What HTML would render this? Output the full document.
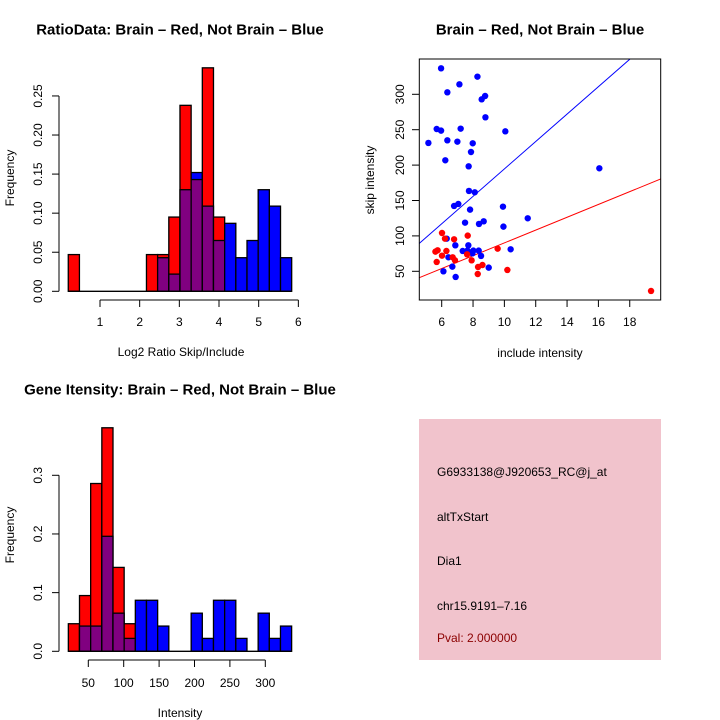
<!DOCTYPE html>
<html><head><meta charset="utf-8"><style>
html,body{margin:0;padding:0;background:#fff}
svg{display:block;font-family:"Liberation Sans",sans-serif}
</style></head><body>
<svg id="c" width="720" height="720" viewBox="0 0 720 720">
<rect x="0" y="0" width="720" height="720" fill="#fff"/>
</svg>
<script>
// ---- top-left histogram data (log2 ratio) ----
const ratioBinStart = 0.2;
const ratioBinWidth = 0.2816;
const ratioRed = [0.047,0,0,0,0,0,0,0.047,0.047,0.095,0.238,0.143,0.286,0.095,0,0,0,0,0,0];
const ratioBlue = [0,0,0,0,0,0,0,0,0.043,0.022,0.13,0.152,0.109,0.065,0.087,0.043,0.065,0.13,0.109,0.043];
const ratioXTicks = [1,2,3,4,5,6];
const ratioYTicks = [0,0.05,0.10,0.15,0.20,0.25];
const ratioYLabels = ["0.00","0.05","0.10","0.15","0.20","0.25"];
// ---- bottom-left histogram data (intensity) ----
const intBinStart = 21.8;
const intBinWidth = 15.77;
const intRed = [0.047,0.095,0.286,0.381,0.143,0.047,0,0,0,0,0,0,0,0,0,0,0,0,0,0];
const intBlue = [0,0.043,0.043,0.196,0.065,0.022,0.087,0.087,0.043,0,0,0.065,0.022,0.087,0.087,0.022,0,0.065,0.022,0.043];
const intXTicks = [50,100,150,200,250,300];
const intYTicks = [0,0.1,0.2,0.3];
const intYLabels = ["0.0","0.1","0.2","0.3"];
// ---- scatter data ----
const blueX = [5.96,8.28,7.13,6.36,8.55,8.77,8.79,5.68,5.96,7.21,10.06,5.15,6.36,7.00,7.98,7.87,6.23,7.72,16.06,7.74,8.11,6.79,7.06,9.91,7.81,11.49,7.49,8.38,8.68,9.94,6.32,6.87,7.70,7.34,7.64,8.02,8.36,7.96,10.40,6.43,8.51,6.68,9.0,6.11,6.89];
const blueY = [336.7,324.9,314.1,302.8,292.9,297.6,267.5,251.0,248.7,251.5,247.7,231.3,235.0,233.1,230.8,218.5,206.8,198.3,195.5,163.5,161.6,142.3,145.1,141.3,137.1,124.9,118.7,116.9,120.6,113.1,96.1,86.7,86.7,78.7,79.2,79.2,79.2,75.4,81.1,69.8,71.7,56.6,55.2,50,42];
const redX = [6.02,6.21,6.79,7.66,5.60,5.74,6.30,6.02,5.68,6.70,6.85,7.62,7.91,9.57,8.60,8.32,8.30,10.19,19.36];
const redY = [104.1,96.1,95.2,100.4,77.8,79.7,78.7,72.1,63.2,69.8,65.5,74.0,65.5,82.0,58.9,56.1,46.2,51.9,22.2];
const redLine = [-0.4, 9.05];   // intercept, slope
const blueLine = [1.0, 19.36];
const scXTicks = [6,8,10,12,14,16,18];
const scYTicks = [50,100,150,200,250,300];

const svg = document.getElementById('c');
const NS = 'http://www.w3.org/2000/svg';
function mk(tag, attrs, parent){
  const e = document.createElementNS(NS, tag);
  for (const k in attrs) e.setAttribute(k, attrs[k]);
  (parent||svg).appendChild(e);
  return e;
}
function txt(x,y,s,size,opts){
  opts = opts||{};
  const t = mk('text',{x:x,y:y,'font-size':size,'text-anchor':'middle','dominant-baseline':'central',fill:opts.fill||'#000','font-weight':opts.bold?'bold':'normal'});
  if (opts.rot) t.setAttribute('transform','rotate(-90 '+x+' '+y+')');
  if (opts.anchor) t.setAttribute('text-anchor', opts.anchor);
  t.textContent = s;
  return t;
}

// ===== Top-left histogram =====
const rx = v => 100 + (v-1)*39.67;
const ry = v => 291.3 - v*781.4;
function hist(xs, ys, start, width, red, blue, g){
  for (let i=0;i<red.length;i++){
    const x0 = xs(start+i*width), x1 = xs(start+(i+1)*width);
    const draw = (v,col,name) => {
      if (v<=0) return;
      const r = mk('rect',{x:x0,y:ys(v),width:x1-x0,height:ys(0)-ys(v),fill:col,stroke:'#000','stroke-width':1.3},g);
      
      
    };
    if (red[i]>=blue[i]){ draw(red[i],'#ff0000','red-bar'); draw(Math.min(red[i],blue[i]),'#800080','overlap-bar'); }
    else { draw(blue[i],'#0000ff','blue-bar'); draw(Math.min(red[i],blue[i]),'#800080','overlap-bar'); }
  }
}
const g1 = mk('g',{});


hist(rx, ry, ratioBinStart, ratioBinWidth, ratioRed, ratioBlue, g1);
mk('line',{x1:rx(0.2),x2:rx(5.83),y1:ry(0),y2:ry(0),stroke:'#000','stroke-width':1.3},g1);
mk('line',{x1:59,x2:59,y1:ry(0),y2:ry(0.25),stroke:'#000','stroke-width':1},g1);
ratioYTicks.forEach((v,i)=>{ mk('line',{x1:52,x2:59,y1:ry(v),y2:ry(v),stroke:'#000'},g1); txt(38,ry(v),ratioYLabels[i],12,{rot:true}); });
mk('line',{x1:rx(1),x2:rx(6),y1:300,y2:300,stroke:'#000'},g1);
ratioXTicks.forEach(v=>{ mk('line',{x1:rx(v),x2:rx(v),y1:300,y2:307,stroke:'#000'},g1); txt(rx(v),322,String(v),12); });
txt(180,30,'RatioData: Brain \u2013 Red, Not Brain \u2013 Blue',15,{bold:true});
txt(181,352,'Log2 Ratio Skip/Include',12);
txt(10,178,'Frequency',12,{rot:true});

// ===== Bottom-left histogram =====
const ix = v => 88.3 + (v-50)*0.708;
const iy = v => 651.3 - v*586.7;
const g3 = mk('g',{});


hist(ix, iy, intBinStart, intBinWidth, intRed, intBlue, g3);
mk('line',{x1:ix(21.8),x2:ix(337),y1:iy(0),y2:iy(0),stroke:'#000','stroke-width':1.3},g3);
mk('line',{x1:59,x2:59,y1:iy(0),y2:iy(0.3),stroke:'#000'},g3);
intYTicks.forEach((v,i)=>{ mk('line',{x1:52,x2:59,y1:iy(v),y2:iy(v),stroke:'#000'},g3); txt(38,iy(v),intYLabels[i],12,{rot:true}); });
mk('line',{x1:ix(50),x2:ix(300),y1:660,y2:660,stroke:'#000'},g3);
intXTicks.forEach(v=>{ mk('line',{x1:ix(v),x2:ix(v),y1:660,y2:667,stroke:'#000'},g3); txt(ix(v),683,String(v),12); });
txt(180,390,'Gene Itensity: Brain \u2013 Red, Not Brain \u2013 Blue',15,{bold:true});
txt(180,713,'Intensity',12);
txt(10,535,'Frequency',12,{rot:true});

// ===== Scatter =====
const sx = v => 441.7 + (v-6)*15.67;
const sy = v => 271.3 - (v-50)*0.708;
const g2 = mk('g',{});


const clip = mk('clipPath',{id:'sc'},g2);
mk('rect',{x:419.3,y:59,width:241.4,height:241},clip);
const lineFn = (p,col,name)=>{
  const xa=4.57, xb=19.98;
  const l = mk('line',{x1:sx(xa),y1:sy(p[0]+p[1]*xa),x2:sx(xb),y2:sy(p[0]+p[1]*xb),stroke:col,'stroke-width':1,'clip-path':'url(#sc)'},g2);
  
  
};
lineFn(blueLine,'#0000ff','blue-fit-line');
lineFn(redLine,'#ff0000','red-fit-line');
blueX.forEach((x,i)=>{ const c=mk('circle',{cx:sx(x),cy:sy(blueY[i]),r:3.2,fill:'#0000ff'},g2);
    });
redX.forEach((x,i)=>{ const c=mk('circle',{cx:sx(x),cy:sy(redY[i]),r:3.2,fill:'#ff0000'},g2);
    });
mk('rect',{x:419.3,y:59,width:241.4,height:241,fill:'none',stroke:'#000'},g2);
scYTicks.forEach(v=>{ mk('line',{x1:412,x2:419.3,y1:sy(v),y2:sy(v),stroke:'#000'},g2); txt(400,sy(v),String(v),12,{rot:true}); });
scXTicks.forEach(v=>{ mk('line',{x1:sx(v),x2:sx(v),y1:300,y2:307,stroke:'#000'},g2); txt(sx(v),322,String(v),12); });
txt(540,30,'Brain \u2013 Red, Not Brain \u2013 Blue',15,{bold:true});
txt(540,353,'include intensity',12);
txt(370,180,'skip intensity',12,{rot:true});

// ===== Info panel =====
const g4 = mk('g',{});


mk('rect',{x:419,y:419,width:242,height:241,fill:'#f1c3cc'},g4);
const info = [['G6933138@J920653_RC@j_at',472,'#000'],['altTxStart',517,'#000'],['Dia1',561,'#000'],['chr15.9191\u20137.16',606,'#000'],['Pval: 2.000000',638,'#8b0000']];
info.forEach(r=>{ const t=txt(437,r[1],r[0],12,{anchor:'start',fill:r[2]});
    });
</script>
</body></html>
